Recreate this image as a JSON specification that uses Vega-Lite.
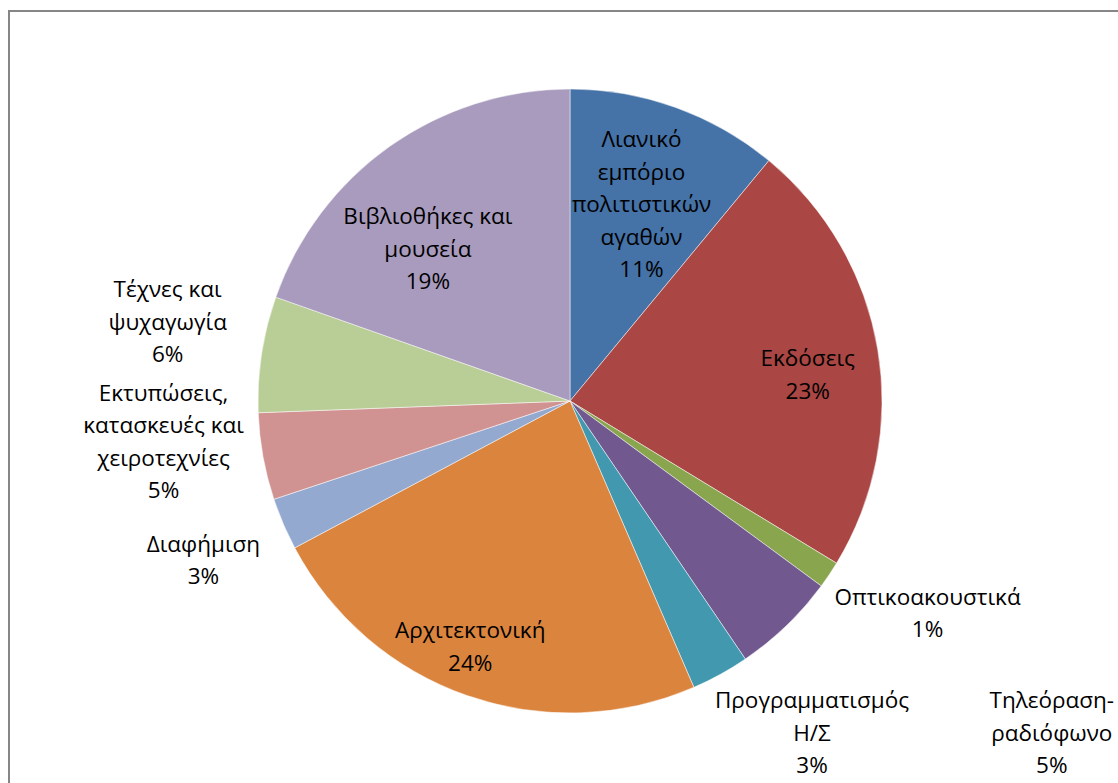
{
  "$schema": "https://vega.github.io/schema/vega-lite/v6.json",
  "width": 1122,
  "height": 780,
  "autosize": "none",
  "padding": {"left": 9, "top": 11, "right": 0, "bottom": 0},
  "background": "white",
  "view": {"stroke": "#868686", "strokeWidth": 2},
  "config": {
    "view": {"stroke": "#868686", "strokeWidth": 2},
    "text": {"font": "Open Sans", "fontSize": 22.5, "lineHeight": 32.5, "lineBreak": "\n", "align": "center", "baseline": "middle", "color": "#000000"}
  },
  "data": {
    "values": [
      {"i": 1, "name": "Λιανικό εμπόριο πολιτιστικών αγαθών", "v": 11.0, "label": "Λιανικό\nεμπόριο\nπολιτιστικών\nαγαθών\n11%"},
      {"i": 2, "name": "Εκδόσεις", "v": 22.7, "label": "Εκδόσεις\n23%"},
      {"i": 3, "name": "Οπτικοακουστικά", "v": 1.4, "label": "Οπτικοακουστικά\n1%"},
      {"i": 4, "name": "Τηλεόραση-ραδιόφωνο", "v": 5.4, "label": "Τηλεόραση-\nραδιόφωνο\n5%"},
      {"i": 5, "name": "Προγραμματισμός Η/Σ", "v": 3.0, "label": "Προγραμματισμός\nΗ/Σ\n3%"},
      {"i": 6, "name": "Αρχιτεκτονική", "v": 23.7, "label": "Αρχιτεκτονική\n24%"},
      {"i": 7, "name": "Διαφήμιση", "v": 2.7, "label": "Διαφήμιση\n3%"},
      {"i": 8, "name": "Εκτυπώσεις, κατασκευές και χειροτεχνίες", "v": 4.5, "label": "Εκτυπώσεις,\nκατασκευές και\nχειροτεχνίες\n5%"},
      {"i": 9, "name": "Τέχνες και ψυχαγωγία", "v": 6.0, "label": "Τέχνες και\nψυχαγωγία\n6%"},
      {"i": 10, "name": "Βιβλιοθήκες και μουσεία", "v": 19.6, "label": "Βιβλιοθήκες και\nμουσεία\n19%"}
    ]
  },
  "encoding": {
    "theta": {"field": "v", "type": "quantitative", "stack": true},
    "order": {"field": "i", "type": "quantitative"}
  },
  "layer": [
    {
      "mark": {"type": "arc", "outerRadius": 312, "stroke": "#ffffff", "strokeWidth": 0.5},
      "encoding": {
        "color": {
          "field": "name", "type": "nominal", "legend": null,
          "scale": {
            "domain": ["Λιανικό εμπόριο πολιτιστικών αγαθών", "Εκδόσεις", "Οπτικοακουστικά", "Τηλεόραση-ραδιόφωνο", "Προγραμματισμός Η/Σ", "Αρχιτεκτονική", "Διαφήμιση", "Εκτυπώσεις, κατασκευές και χειροτεχνίες", "Τέχνες και ψυχαγωγία", "Βιβλιοθήκες και μουσεία"],
            "range": ["#4572A7", "#AA4643", "#89A54E", "#71588F", "#4198AF", "#DB843D", "#93A9CF", "#D19392", "#B9CD96", "#A99BBD"]
          }
        }
      }
    },
    {"mark": {"type": "text", "radius": 208, "dx": 1, "dy": -65}, "encoding": {"text": {"condition": {"test": "datum.i == 1", "field": "label"}, "value": ""}}},
    {"mark": {"type": "text", "radius": 239, "dx": 2, "dy": -2}, "encoding": {"text": {"condition": {"test": "datum.i == 2", "field": "label"}, "value": ""}}},
    {"mark": {"type": "text", "radius": 416, "dx": 12, "dy": -35}, "encoding": {"text": {"condition": {"test": "datum.i == 3", "field": "label"}, "value": ""}}},
    {"mark": {"type": "text", "radius": 585, "dx": 76, "dy": -121}, "encoding": {"text": {"condition": {"test": "datum.i == 4", "field": "label"}, "value": ""}}},
    {"mark": {"type": "text", "radius": 411, "dx": 44, "dy": -60}, "encoding": {"text": {"condition": {"test": "datum.i == 5", "field": "label"}, "value": ""}}},
    {"mark": {"type": "text", "radius": 266, "dx": -12, "dy": -21}, "encoding": {"text": {"condition": {"test": "datum.i == 6", "field": "label"}, "value": ""}}},
    {"mark": {"type": "text", "radius": 400, "dx": 1, "dy": -14}, "encoding": {"text": {"condition": {"test": "datum.i == 7", "field": "label"}, "value": ""}}},
    {"mark": {"type": "text", "radius": 409, "dx": -4, "dy": -80}, "encoding": {"text": {"condition": {"test": "datum.i == 8", "field": "label"}, "value": ""}}},
    {"mark": {"type": "text", "radius": 410, "dx": 3, "dy": -49}, "encoding": {"text": {"condition": {"test": "datum.i == 9", "field": "label"}, "value": ""}}},
    {"mark": {"type": "text", "radius": 208, "dx": -22, "dy": -14}, "encoding": {"text": {"condition": {"test": "datum.i == 10", "field": "label"}, "value": ""}}}
  ]
}
